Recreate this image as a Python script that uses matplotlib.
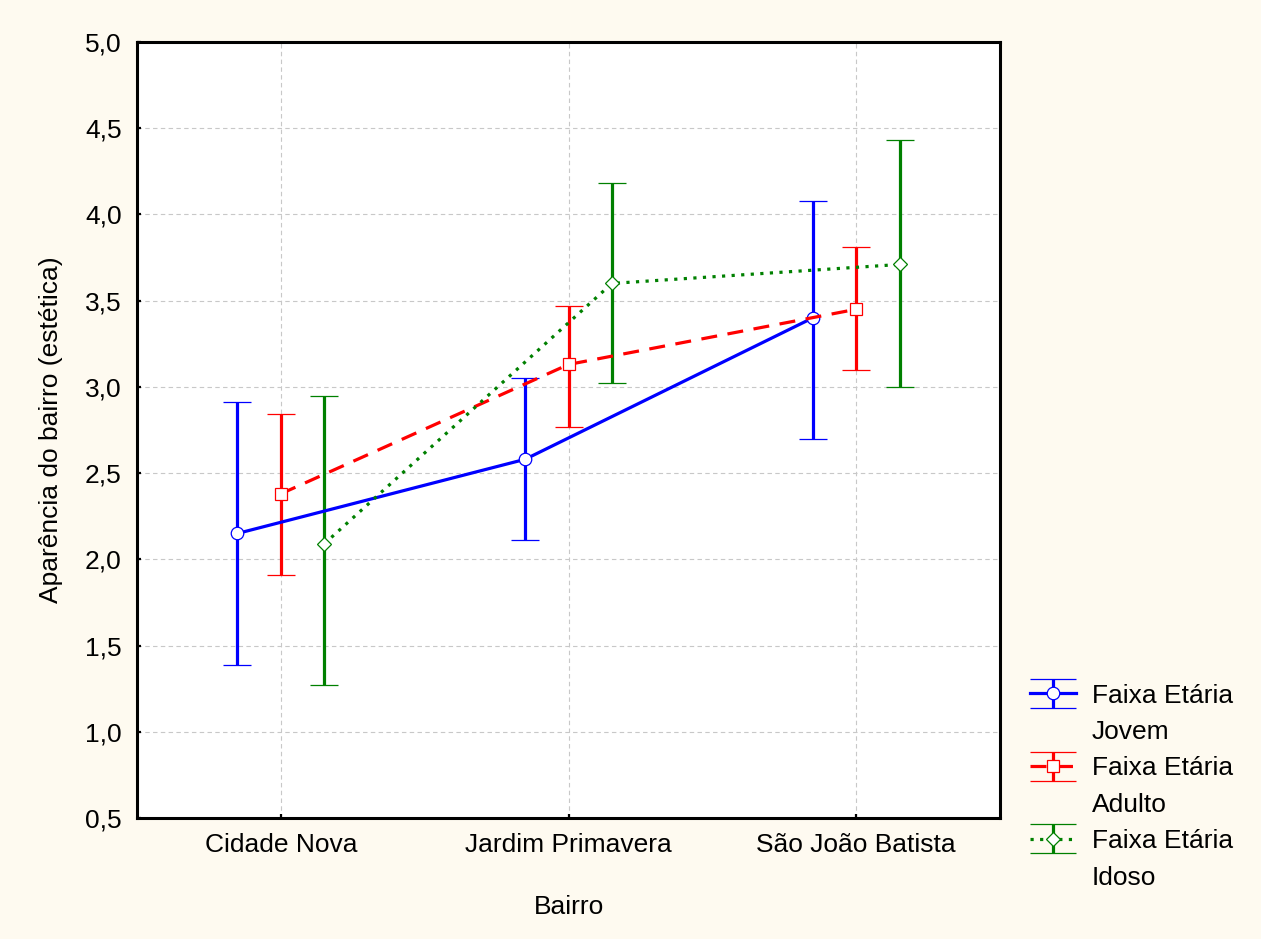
import matplotlib
matplotlib.use("Agg")
import matplotlib.pyplot as plt
import numpy as np
from matplotlib.ticker import FuncFormatter, MultipleLocator
from matplotlib.legend_handler import HandlerErrorbar
from matplotlib.lines import Line2D

plt.rcParams['font.family'] = ['Liberation Sans', 'DejaVu Sans']

categories = ["Cidade Nova", "Jardim Primavera", "São João Batista"]
group_label = "Faixa Etária"
series_names = ["Jovem", "Adulto", "Idoso"]

jovem_mean = [2.15, 2.58, 3.40]
jovem_upper = [2.91, 3.05, 4.08]
jovem_lower = [1.39, 2.11, 2.70]

adulto_mean = [2.38, 3.13, 3.45]
adulto_upper = [2.84, 3.47, 3.81]
adulto_lower = [1.91, 2.77, 3.10]

idoso_mean = [2.09, 3.60, 3.71]
idoso_upper = [2.95, 4.18, 4.43]
idoso_lower = [1.27, 3.02, 3.00]

FS = 19

fig = plt.figure(figsize=(12.61, 9.39), dpi=100, facecolor='#FEFAF0')
ax = fig.add_axes([137/1261, 1-818/939, (1000-137)/1261, (818-42)/939])
ax.set_facecolor('white')

x = np.arange(len(categories))
offsets = [-0.151, 0.0, 0.151]
styles = [
    dict(color='#0000FF', ls='-', marker='o', ms=9.0),
    dict(color='#FF0000', ls=(0, (5, 3.3)), marker='s', ms=8.6),
    dict(color='#008000', ls=(0, (1, 2)), marker='D', ms=7.2),
]
data = [
    (jovem_mean, jovem_lower, jovem_upper),
    (adulto_mean, adulto_lower, adulto_upper),
    (idoso_mean, idoso_lower, idoso_upper),
]
handles = []
for (m, lo, up), off, st in zip(data, offsets, styles):
    m = np.array(m); lo = np.array(lo); up = np.array(up)
    h = ax.errorbar(x + off, m, yerr=[m - lo, up - m], color=st['color'],
                    ls=st['ls'], lw=2.3, marker=st['marker'], ms=st['ms'],
                    mfc='white', mec=st['color'], mew=0.9,
                    elinewidth=2.3, capsize=10, capthick=2.6, zorder=3)
    handles.append(h)

ax.set_xlim(-0.5, 2.5)
ax.set_ylim(0.5, 5.0)
ax.yaxis.set_major_locator(MultipleLocator(0.5))
ax.yaxis.set_major_formatter(FuncFormatter(lambda v, p: f"{v:.1f}".replace('.', ',')))
ax.set_xticks(x)
ax.set_xticklabels(categories)
ax.grid(True, color='#C8C8C8', ls=(0, (4, 3)), lw=0.8, zorder=0)
ax.set_axisbelow(True)
for s in ax.spines.values():
    s.set_linewidth(2.2)
    s.set_color('black')
ax.tick_params(direction='in', length=3, width=1.6, labelsize=FS, colors='black')
ax.tick_params(axis='x', pad=11)
ax.tick_params(axis='y', pad=11)

ax.set_xlabel("Bairro", fontsize=FS, labelpad=27)
ax.set_ylabel("Aparência do bairro (estética)", fontsize=FS, labelpad=16)


class WideCapHandler(HandlerErrorbar):
    def create_artists(self, legend, orig_handle, xdescent, ydescent, width,
                       height, fontsize, trans):
        artists = super().create_artists(legend, orig_handle, xdescent, ydescent,
                                         width, height, fontsize, trans)
        for a in artists:
            if isinstance(a, Line2D) and a.get_marker() == '_':
                a.set_markersize(width)
        return artists


blank = Line2D([], [], color='none')
leg_handles, leg_labels = [], []
for h, name in zip(handles, series_names):
    leg_handles += [h, blank]
    leg_labels += [group_label, name]

leg = fig.legend(handles=leg_handles, labels=leg_labels, loc='upper left',
                 bbox_to_anchor=(1019/1261, 1-673/939), frameon=False,
                 fontsize=FS, handlelength=1.75, handletextpad=0.6,
                 labelspacing=0.47, borderaxespad=0,
                 handler_map={type(handles[0]): WideCapHandler(yerr_size=0.55)})

fig.savefig("out.png", dpi=100, facecolor=fig.get_facecolor())
